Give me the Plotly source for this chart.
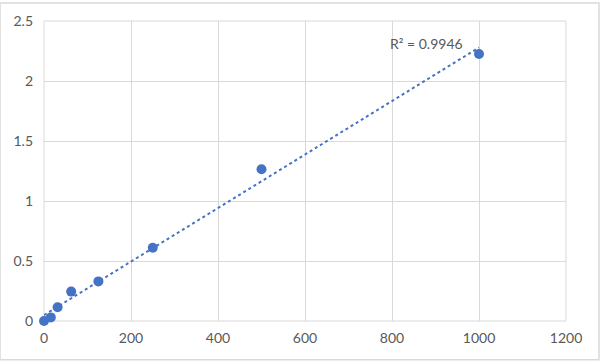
import numpy as np
import plotly.graph_objects as go

conc = [0, 15.625, 31.25, 62.5, 125, 250, 500, 1000]
od = [0.0, 0.03, 0.115, 0.245, 0.33, 0.61, 1.265, 2.225]
x_ticks = [0, 200, 400, 600, 800, 1000, 1200]
y_ticks = [0, 0.5, 1, 1.5, 2, 2.5]
y_tick_text = ["0", "0.5", "1", "1.5", "2", "2.5"]
r2_label = "R² = 0.9946"

x = np.array(conc, dtype=float)
y = np.array(od, dtype=float)
slope, intercept = np.polyfit(x, y, 1)
tx = np.array([x.min(), x.max()])
ty = slope * tx + intercept

blue = "#4472C4"
grid = "#D9D9D9"
txt = "#595959"
font = "Lato, 'Open Sans', sans-serif"

fig = go.Figure()
fig.add_trace(go.Scatter(x=tx, y=ty, mode="lines",
                         line=dict(color=blue, width=2, dash="dot"),
                         hoverinfo="skip", showlegend=False))
fig.add_trace(go.Scatter(x=conc, y=od, mode="markers",
                         marker=dict(color=blue, size=10),
                         cliponaxis=False, showlegend=False))
fig.add_annotation(x=1000, y=ty[-1], text=r2_label, showarrow=False,
                   xanchor="right", yanchor="bottom", xshift=-14, yshift=-6,
                   font=dict(family=font, size=14, color=txt))

fig.update_layout(
    width=600, height=361,
    margin=dict(l=44, r=34, t=19, b=40),
    paper_bgcolor="white", plot_bgcolor="white",
    font=dict(family=font, size=14, color=txt),
    xaxis=dict(range=[0, 1200], tickvals=x_ticks, showgrid=True, gridcolor=grid,
               gridwidth=1, zeroline=False, showline=False, ticks="",
               tickfont=dict(family=font, size=14, color=txt), ticklabelstandoff=7),
    yaxis=dict(range=[0, 2.5], tickvals=y_ticks, ticktext=y_tick_text, showgrid=True,
               gridcolor=grid, gridwidth=1, zeroline=False, showline=False, ticks="",
               tickfont=dict(family=font, size=14, color=txt), ticklabelstandoff=10),
    shapes=[dict(type="rect", xref="paper", yref="paper", x0=0, x1=1, y0=0, y1=1,
                 line=dict(color=grid, width=1), layer="below"),
            dict(type="rect", xref="paper", yref="paper",
                 x0=-44/522, x1=1+33/522, y0=-39/302, y1=1+18/302,
                 line=dict(color=grid, width=1.5), layer="below")],
)
fig.write_html("out.html")
